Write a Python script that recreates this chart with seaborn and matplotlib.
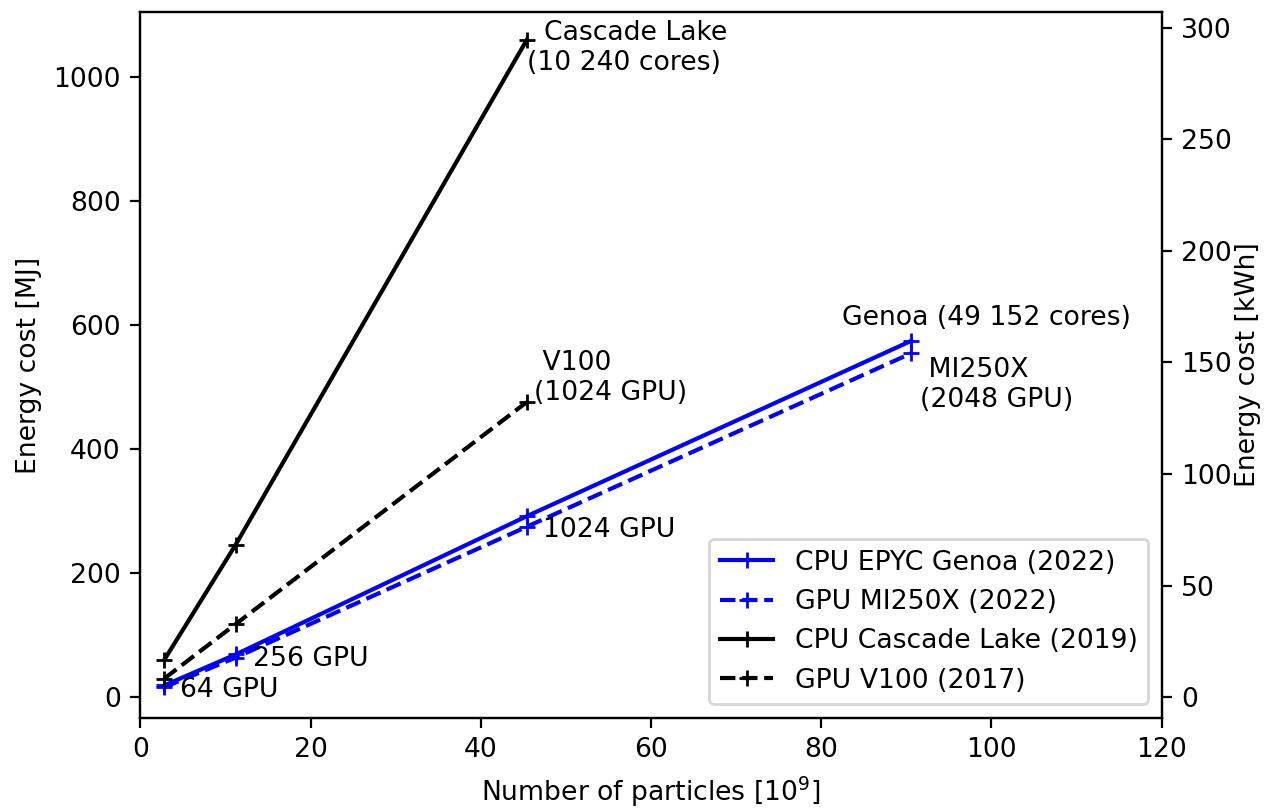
import numpy as np
import pandas as pd
import matplotlib
matplotlib.use("Agg")
import matplotlib.pyplot as plt
import seaborn as sns

# number of particles [10^9]
particles = [2.8, 11.2, 45.4, 90.6]

# energy cost [MJ]
genoa = [19, 69, 292, 575]
mi250x = [16, 64, 275, 555]
cascade = [60, 246, 1060]
v100 = [30, 118, 476]

plt.rcParams['font.size'] = 9.6

fig, ax = plt.subplots(figsize=(6.32, 4.055), dpi=200)
fig.subplots_adjust(left=0.111, right=0.919, top=0.985, bottom=0.115)

kw = dict(marker='+', markersize=6, markeredgewidth=1.0, linewidth=1.5, ax=ax)
sns.lineplot(x=particles, y=genoa, color='blue', markeredgecolor='blue',
             label='CPU EPYC Genoa (2022)', **kw)
sns.lineplot(x=particles, y=mi250x, color='blue', markeredgecolor='blue', linestyle='--',
             label='GPU MI250X (2022)', **kw)
sns.lineplot(x=particles[:3], y=cascade, color='black', markeredgecolor='black',
             label='CPU Cascade Lake (2019)', **kw)
sns.lineplot(x=particles[:3], y=v100, color='black', markeredgecolor='black', linestyle='--',
             label='GPU V100 (2017)', **kw)

# annotations
ax.text(45.4, 1047, '  Cascade Lake\n(10 240 cores)', ha='left', va='center')
ax.text(46.3, 515, ' V100\n(1024 GPU)', ha='left', va='center')
ax.text(82.5, 612, 'Genoa (49 152 cores)', ha='left', va='center')
ax.text(91.6, 504, ' MI250X\n(2048 GPU)', ha='left', va='center')
ax.text(47.3, 270, '1024 GPU', ha='left', va='center')
ax.text(13.3, 61, '256 GPU', ha='left', va='center')
ax.text(4.7, 12, '64 GPU', ha='left', va='center')

ax.set_xlim(0, 120)
ylo, yhi = -33, 1105
ax.set_ylim(ylo, yhi)
ax.set_xlabel('Number of particles [$10^9$]')
ax.set_ylabel('Energy cost [MJ]')
ax.legend(loc='lower right')

ax2 = ax.twinx()
ax2.set_ylim(ylo / 3.6, yhi / 3.6)
ax2.set_yticks([0, 50, 100, 150, 200, 250, 300])
ax2.set_ylabel('Energy cost [kWh]', labelpad=1)

fig.savefig('out.png', dpi=200)
